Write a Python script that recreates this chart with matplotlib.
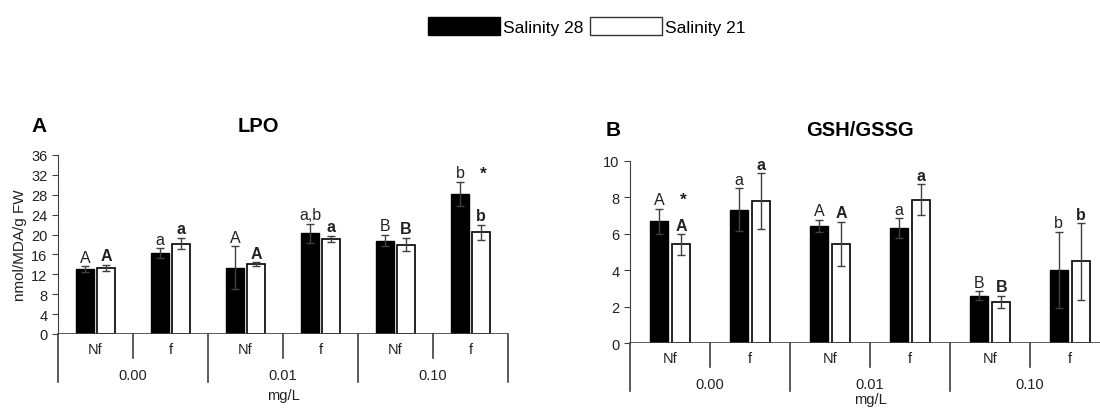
import matplotlib.pyplot as plt
from matplotlib.patches import Patch
import numpy as np

plt.rcParams['font.family'] = ['Liberation Sans', 'DejaVu Sans']

# data
subgroups = ['Nf', 'f', 'Nf', 'f', 'Nf', 'f']
groups = ['0.00', '0.01', '0.10']

lpo_s28 = [13.0, 16.2, 13.3, 20.3, 18.8, 28.2]
lpo_s28_err = [0.6, 1.0, 4.3, 1.9, 1.2, 2.4]
lpo_s21 = [13.3, 18.2, 14.0, 19.2, 18.0, 20.5]
lpo_s21_err = [0.6, 1.2, 0.4, 0.6, 1.4, 1.5]
lpo_lab28 = ['A', 'a', 'A', 'a,b', 'B', 'b']
lpo_lab21 = ['A', 'a', 'A', 'a', 'B', 'b']
lpo_star = [False, False, False, False, False, True]

gsh_s28 = [6.68, 7.32, 6.44, 6.31, 2.61, 4.03]
gsh_s28_err = [0.70, 1.17, 0.33, 0.55, 0.24, 2.08]
gsh_s21 = [5.42, 7.78, 5.46, 7.86, 2.26, 4.49]
gsh_s21_err = [0.57, 1.53, 1.20, 0.86, 0.35, 2.10]
gsh_lab28 = ['A', 'a', 'A', 'a', 'B', 'b']
gsh_lab21 = ['A', 'a', 'A', 'a', 'B', 'b']
gsh_star = [True, False, False, False, False, False]

line_c = '#404040'
txt_c = '#222222'
fs = 10.5

fig = plt.figure(figsize=(11, 4.1), dpi=100)
axA = fig.add_axes([58/1100, 1-335/410, 450/1100, 179/410])
axB = fig.add_axes([630/1100, 1-344.3/410, 480/1100, 182.6/410])


def draw(ax, s28, e28, s21, e21, lab28, lab21, star, ymax, ystep, unit_off):
    x = np.arange(len(s28))
    w = 0.23
    g = 0.025
    ekw = dict(ecolor=line_c, elinewidth=1, capsize=3, capthick=1)
    ax.bar(x - w/2 - g, s28, w, color='black', edgecolor='black', linewidth=1,
           yerr=e28, error_kw=ekw, zorder=2)
    ax.bar(x + w/2 + g, s21, w, color='white', edgecolor='black', linewidth=1.2,
           yerr=e21, error_kw=ekw, zorder=2)
    for i in x:
        top28 = s28[i] + e28[i]
        top21 = s21[i] + e21[i]
        ax.annotate(lab28[i], (x[i] - w/2 - g, top28), xytext=(0, 1),
                    textcoords='offset points', ha='center', va='bottom',
                    fontsize=11.5, color=txt_c)
        ax.annotate(lab21[i], (x[i] + w/2 + g, top21), xytext=(0, 1),
                    textcoords='offset points', ha='center', va='bottom',
                    fontsize=11.5, fontweight='bold', color=txt_c)
        if star[i]:
            ax.annotate('*', (x[i] + w/2 + g + 0.03, top28), xytext=(0, 1),
                        textcoords='offset points', ha='center', va='bottom',
                        fontsize=12.5, fontweight='bold', color=txt_c)

    ax.set_xlim(-0.5, len(s28) - 0.5)
    ax.set_ylim(0, ymax)
    ax.set_yticks(np.arange(0, ymax + 0.1, ystep))
    ax.set_xticks([])
    for s in ['top', 'right', 'bottom']:
        ax.spines[s].set_visible(False)
    ax.spines['left'].set_color(line_c)
    ax.tick_params(axis='y', length=4, color=line_c, labelsize=fs, labelcolor=txt_c)
    ax.axhline(0, color=line_c, lw=1.2, zorder=3)

    tr = ax.get_xaxis_transform()
    h_px = ax.get_position().height * 410
    sub_b = -24 / h_px
    grp_b = -48 / h_px
    ax.plot([-0.5, -0.5], [grp_b, 0], color=line_c, lw=1.2, transform=tr, clip_on=False)
    for k in range(len(s28)):
        xs = k + 0.5
        yb = grp_b if k % 2 == 1 else sub_b
        ax.plot([xs, xs], [yb, 0], color=line_c, lw=1.2, transform=tr, clip_on=False)
        ax.annotate(subgroups[k], (k, 0), xycoords=tr, xytext=(0, -15),
                    textcoords='offset pixels', ha='center', va='center',
                    fontsize=fs, color=txt_c)
    for j, gname in enumerate(groups):
        ax.annotate(gname, (2*j + 0.5, 0), xycoords=tr, xytext=(0, -41),
                    textcoords='offset pixels', ha='center', va='center',
                    fontsize=fs, color=txt_c)
    ax.annotate('mg/L', (2.5, 0), xycoords=tr, xytext=(0, unit_off),
                textcoords='offset pixels', ha='center', va='center',
                fontsize=fs, color=txt_c)


draw(axA, lpo_s28, lpo_s28_err, lpo_s21, lpo_s21_err, lpo_lab28, lpo_lab21,
     lpo_star, 36, 4, -61)
draw(axB, gsh_s28, gsh_s28_err, gsh_s21, gsh_s21_err, gsh_lab28, gsh_lab21,
     gsh_star, 10, 2, -56)

axA.set_ylabel('nmol/MDA/g FW', fontsize=11, color=txt_c, labelpad=3)

fig.text(39/1100, 1-127/410, 'A', fontsize=15, fontweight='bold', ha='center', va='center')
fig.text(258/1100, 1-127/410, 'LPO', fontsize=14.5, fontweight='bold', ha='center', va='center')
fig.text(613/1100, 1-131/410, 'B', fontsize=15, fontweight='bold', ha='center', va='center')
fig.text(860/1100, 1-131/410, 'GSH/GSSG', fontsize=14.5, fontweight='bold', ha='center', va='center')

handles = [Patch(facecolor='black', edgecolor='black', label='Salinity 28'),
           Patch(facecolor='white', edgecolor='#333333', label='Salinity 21')]
fig.legend(handles=handles, loc='center', bbox_to_anchor=(587/1100, 1-27/410),
           ncol=2, frameon=False, fontsize=12.5, handlelength=4.15, handleheight=1.25,
           handletextpad=0.15, columnspacing=0.4)

fig.savefig('out.png', dpi=100)
